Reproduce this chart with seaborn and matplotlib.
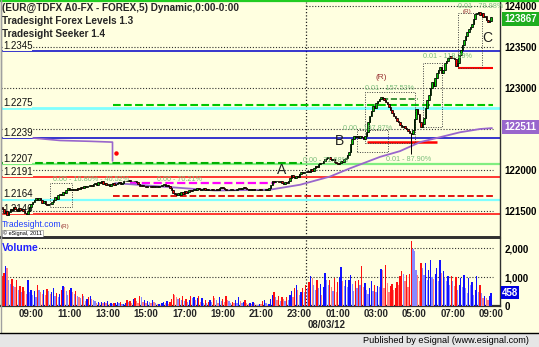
import numpy as np
import pandas as pd
import matplotlib
matplotlib.use("Agg")
import matplotlib.pyplot as plt
import seaborn as sns
from matplotlib.patches import Rectangle
from matplotlib.lines import Line2D
from matplotlib.transforms import ScaledTranslation

# ---------------- data ----------------
closes = [
    1.2152, 1.2147, 1.2150, 1.2145, 1.2149, 1.2153, 1.2151, 1.2155, 1.2152, 1.2150, 1.2154, 1.2151,
    1.2153, 1.2150, 1.2148, 1.2146, 1.2150, 1.2155, 1.2158, 1.2161, 1.2164, 1.2166, 1.2163, 1.2166,
    1.2164, 1.2160, 1.2162, 1.2159, 1.2157, 1.2159, 1.2158, 1.2161, 1.2164, 1.2167, 1.2165, 1.2169,
    1.2171, 1.2170, 1.2173, 1.2172, 1.2176, 1.2178, 1.2176, 1.2177, 1.2175, 1.2177, 1.2176, 1.2178,
    1.2177, 1.2179, 1.2178, 1.2180, 1.2179, 1.2181, 1.2180, 1.2182, 1.2181, 1.2183, 1.2184, 1.2182,
    1.2185, 1.2184, 1.2186, 1.2183, 1.2184, 1.2182, 1.2183, 1.2181, 1.2183, 1.2184, 1.2182, 1.2183,
    1.2184, 1.2185, 1.2183, 1.2184, 1.2186, 1.2187, 1.2186, 1.2188, 1.2187, 1.2186, 1.2187, 1.2186,
    1.2185, 1.2183, 1.2181, 1.2182, 1.2180, 1.2181, 1.2179, 1.2180, 1.2181, 1.2179, 1.2180, 1.2179,
    1.2180, 1.2179, 1.2181, 1.2180, 1.2182, 1.2183, 1.2181, 1.2182, 1.2180, 1.2178, 1.2175, 1.2172,
    1.2171, 1.2169, 1.2172, 1.2170, 1.2173, 1.2171, 1.2174, 1.2172, 1.2173, 1.2175, 1.2174, 1.2176,
    1.2177, 1.2176, 1.2178, 1.2177, 1.2176, 1.2177, 1.2178, 1.2176, 1.2177, 1.2175, 1.2176, 1.2177,
    1.2176, 1.2175, 1.2177, 1.2176, 1.2178, 1.2179, 1.2178, 1.2177, 1.2176, 1.2175, 1.2176, 1.2177,
    1.2176, 1.2175, 1.2176, 1.2177, 1.2178, 1.2177, 1.2178, 1.2179, 1.2178, 1.2177, 1.2176, 1.2177,
    1.2176, 1.2177, 1.2176, 1.2175, 1.2176, 1.2177, 1.2176, 1.2175, 1.2176, 1.2177, 1.2176, 1.2178,
    1.2182, 1.2186, 1.2185, 1.2187, 1.2186, 1.2185, 1.2186, 1.2184, 1.2183, 1.2185, 1.2184, 1.2186,
    1.2190, 1.2194, 1.2191, 1.2190, 1.2193, 1.2192, 1.2195, 1.2197, 1.2196, 1.2198, 1.2197, 1.2199,
    1.2198, 1.2201, 1.2199, 1.2203, 1.2205, 1.2204, 1.2207, 1.2209, 1.2208, 1.2211, 1.2213, 1.2215,
    1.2216, 1.2214, 1.2212, 1.2213, 1.2210, 1.2209, 1.2207, 1.2209, 1.2211, 1.2210, 1.2213, 1.2215,
    1.2218, 1.2222, 1.2232, 1.2238, 1.2242, 1.2240, 1.2241, 1.2239, 1.2241, 1.2240, 1.2238, 1.2241,
    1.2246, 1.2258, 1.2266, 1.2272, 1.2278, 1.2276, 1.2282, 1.2284, 1.2287, 1.2289, 1.2288, 1.2285,
    1.2283, 1.2280, 1.2277, 1.2273, 1.2270, 1.2266, 1.2264, 1.2260, 1.2258, 1.2255, 1.2252, 1.2254,
    1.2251, 1.2250, 1.2248, 1.2245, 1.2244, 1.2249, 1.2262, 1.2274, 1.2268, 1.2258, 1.2253, 1.2256,
    1.2264, 1.2275, 1.2285, 1.2292, 1.2300, 1.2307, 1.2303, 1.2312, 1.2318, 1.2322, 1.2326, 1.2318,
    1.2322, 1.2330, 1.2333, 1.2337, 1.2339, 1.2336, 1.2337, 1.2335, 1.2327, 1.2331, 1.2340, 1.2346,
    1.2352, 1.2358, 1.2364, 1.2368, 1.2372, 1.2374, 1.2378, 1.2384, 1.2390, 1.2392, 1.2393, 1.2389,
    1.2391, 1.2386, 1.2388, 1.2383, 1.2380, 1.2382, 1.23867,
]
volumes = [
    1020, 1140, 1370, 1310, 880, 760, 920, 690, 640, 900, 560, 700,
    480, 640, 520, 430, 900, 470, 560, 380, 520, 300, 720, 540,
    470, 430, 560, 380, 600, 520, 410, 470, 620, 330, 460, 300,
    420, 560, 700, 640, 520, 380, 560, 610, 480, 420, 530, 360,
    320, 260, 400, 330, 180, 230, 300, 350, 250, 190, 160, 120,
    150, 110, 130, 90, 140, 100, 170, 80, 120, 60, 90, 110,
    130, 90, 150, 60, 80, 120, 200, 140, 170, 90, 240, 260,
    180, 120, 330, 300, 150, 220, 90, 160, 130, 100, 200, 140,
    110, 60, 80, 40, 90, 130, 100, 160, 60, 130, 230, 420,
    380, 320, 250, 290, 200, 360, 180, 240, 150, 220, 330, 280,
    310, 190, 260, 340, 150, 260, 120, 200, 90, 150, 190, 130,
    360, 270, 220, 120, 300, 180, 240, 130, 330, 220, 160, 100,
    140, 90, 210, 120, 300, 160, 90, 130, 220, 110, 80, 120,
    60, 130, 90, 50, 30, 80, 60, 160, 190, 100, 40, 70,
    250, 380, 470, 300, 220, 360, 180, 300, 230, 180, 300, 220,
    390, 510, 300, 620, 730, 560, 380, 470, 620, 480, 720, 610,
    820, 1020, 980, 720, 560, 890, 620, 760, 380, 640, 1130, 900,
    720, 880, 640, 520, 980, 480, 820, 1000, 1340, 870, 700, 910,
    640, 880, 1080, 760, 530, 870, 610, 900, 720, 1370, 650, 800,
    560, 410, 620, 860, 520, 740, 480, 700, 640, 1290, 1230, 620,
    1400, 780, 480, 680, 760, 560, 620, 830, 720, 1020, 1220, 1110,
    860, 1080, 650, 1100, 2240, 1960, 1880, 1250, 1080, 860, 1480, 1310,
    1080, 1490, 880, 1250, 1570, 1000, 920, 1120, 1300, 860, 1600, 1150,
    1210, 960, 860, 1020, 720, 1030, 860, 690, 990, 560, 720, 980,
    650, 1080, 610, 440, 960, 720, 820, 380, 560, 1020, 470, 710,
    440, 280, 330, 270, 200, 330, 458,
]
first_open = 1.2155
wick_low_idx = [256]
wick_low_val = [1.2219]
start_hour = 7 + 10 / 60       # first bar 07:10 (x axis = hours since 07:00)
bar_minutes = 5

# moving average (purple), in hours since 07:00
ma1_t = [1.768, 3.176, 4.741, 5.915, 5.916]
ma1_v = [1.2239, 1.2236, 1.2235, 1.2234, 1.2211]
ma2_t = [6.05, 8.39, 11.26, 14.13, 15.70, 17.26, 18.30, 19.87, 20.91, 21.96, 23.00, 24.04, 25.09, 25.71]
ma2_v = [1.2184, 1.2180, 1.2175, 1.2176, 1.2182, 1.2192, 1.2202, 1.2216, 1.2223, 1.2234, 1.2240, 1.2246, 1.2250, 1.22511]

# levels (full width)
level_vals = [1.2345, 1.2275, 1.2239, 1.2207, 1.2191, 1.2164, 1.2146]
level_labels = ["1.2345", "1.2275", "1.2239", "1.2207", "1.2191", "1.2164", "1.2146"]
level_colors = ["#0000C8", "#80FFFF", "#0000C8", "#80EE80", "#FF0000", "#80FFFF", "#FF0000"]
level_widths = [1.1, 2.0, 1.1, 1.6, 1.1, 1.6, 1.1]

# partial levels: value, t0, t1, color, style, width
seg_vals = [1.2279, 1.2209, 1.2168, 1.2184, 1.2234, 1.2324, 1.2287]
seg_t0 = [5.94, 0.15, 5.94, 6.83, 19.19, 23.94, 19.97]
seg_t1 = [25.76, 15.80, 25.76, 14.39, 22.84, 25.76, 21.85]
seg_colors = ["#00C800", "#00B000", "#E00000", "#FF00FF", "#FF0000", "#FF0000", "#208020"]
seg_styles = ["--", "--", "--", "--", "-", "-", "--"]
seg_widths = [1.5, 1.5, 1.3, 1.6, 1.8, 1.5, 1.2]

# dotted annotation boxes: t0, t1, top, bottom
box_t0 = [2.654, 18.67, 19.09, 22.11, 23.94]
box_t1 = [3.802, 20.29, 21.69, 23.10, 25.19]
box_top = [1.21841, 1.22488, 1.22951, 1.23305, 1.23915]
box_bot = [1.21549, 1.22220, 1.22329, 1.22524, 1.23244]

# seeker texts
ann_text = ["0.00 - 16.80% - 40.52%", "0.00 - 70.21%", "0.00 - 71.68%", "0.00 - 197.87%",
            "0.01 - 157.53%", "0.01 - 87.90%", "0.01 - 118.29%", "0.01 - 79.98%"]
ann_t = [2.81, 8.24, 15.85, 17.94, 19.09, 20.18, 22.11, 23.94]
ann_p = [1.2189, 1.2189, 1.2212, 1.2250, 1.2300, 1.22134, 1.2339, 1.2400]

wave_text = ["A", "B", "C"]
wave_t = [14.76, 17.78, 25.45]
wave_p = [1.2200, 1.22348, 1.23604]

price_ticks = [1.215, 1.22, 1.23, 1.235, 1.24]
price_tick_labels = ["121500", "122000", "123000", "123500", "124000"]
vol_ticks = [0, 1000, 2000]
vol_tick_labels = ["0", "1,000", "2,000"]
time_ticks = list(range(2, 27, 2))
time_tick_labels = ["09:00", "11:00", "13:00", "15:00", "17:00", "19:00", "21:00",
                    "23:00", "01:00", "03:00", "05:00", "07:00", "09:00"]

# ---------------- frame ----------------
n = len(closes)
t = np.array([start_hour - 7 + i * bar_minutes / 60 for i in range(n)])
opens = [first_open] + closes[:-1]
highs = [max(o, c) for o, c in zip(opens, closes)]
lows = [min(o, c) for o, c in zip(opens, closes)]
for k, v in zip(wick_low_idx, wick_low_val):
    lows[k] = v
df = pd.DataFrame({"t": t, "open": opens, "close": closes, "high": highs, "low": lows, "volume": volumes})
df["up"] = df["close"] >= df["open"]

CREAM = "#FFFFE0"
sns.set_theme(style="white")
plt.rcParams["font.family"] = ["Liberation Sans", "DejaVu Sans"]

W, H = 539, 347
fig = plt.figure(figsize=(W / 100, H / 100), dpi=100, facecolor=CREAM)
fx = lambda x: x / W
fy = lambda y: 1 - y / H

ax = fig.add_axes([fx(1), fy(237), fx(500) - fx(1), fy(2) - fy(237)], facecolor=CREAM)
axv = fig.add_axes([fx(1), fy(306), fx(500) - fx(1), fy(238) - fy(306)], facecolor=CREAM, sharex=ax)

XMIN, XMAX = 0.0983, 26.129
ax.set_xlim(XMIN, XMAX)
ax.set_ylim(1.211829, 1.240488)
axv.set_ylim(0, 2345)

# grid
GRID_END = 25.76
dot = (0, (1, 1.6))
for g in [1.215, 1.22, 1.225, 1.23, 1.235]:
    ax.hlines(g, XMIN, GRID_END, colors="#303030", linestyles=[dot], lw=0.8, zorder=1)
ax.hlines(1.24, 16.0, GRID_END, colors="#303030", linestyles=[dot], lw=0.8, zorder=1)
hours = np.arange(1, 26)
for g in [1.2175, 1.2225, 1.2275, 1.2325, 1.2375]:
    ax.scatter(hours, [g] * len(hours), s=0.35, c="#303030", marker="s", lw=0, zorder=1)
for g in [1000, 2000]:
    axv.hlines(g, XMIN, GRID_END, colors="#303030", linestyles=[dot], lw=0.8, zorder=1)
for g in [500, 1500]:
    axv.scatter(hours, [g] * len(hours), s=0.35, c="#303030", marker="s", lw=0, zorder=1)
for a in (ax, axv):
    a.axvline(16.0, color="#202020", ls=dot, lw=0.9, zorder=1)

# level lines
for v, lab, c, w in zip(level_vals, level_labels, level_colors, level_widths):
    ax.axhline(v, color=c, lw=w, zorder=2)
    ax.text(0.2, v + 0.00005, lab, fontsize=7, color="#101010", ha="left", va="bottom", zorder=3,
            bbox=dict(facecolor=CREAM, edgecolor="none", pad=0))
for v, a0, a1, c, s, w in zip(seg_vals, seg_t0, seg_t1, seg_colors, seg_styles, seg_widths):
    ax.hlines(v, a0, a1, colors=c, linestyles=s, lw=w, zorder=2)

# dotted boxes
for a0, a1, tp, bt in zip(box_t0, box_t1, box_top, box_bot):
    ax.add_patch(Rectangle((a0, bt), a1 - a0, tp - bt, fill=False, ec="#404040",
                           ls=(0, (1, 1.5)), lw=0.7, zorder=2))

# moving average
sns.lineplot(x=ma1_t, y=ma1_v, ax=ax, color="#9966CC", lw=1.2, sort=False, estimator=None, zorder=3)
sns.lineplot(x=ma2_t, y=ma2_v, ax=ax, color="#9966CC", lw=1.3, sort=False, estimator=None, zorder=3)

# tradesight / esignal small texts
ax.text(0.12, 1.2133, "Tradesight.com", fontsize=6.2, color="#2040FF", ha="left", va="center", zorder=3)
ax.text(3.2, 1.21305, "(R)", fontsize=4.5, color="#993333", ha="left", va="center", zorder=3)
ax.text(0.2, 1.2123, "© eSignal, 2011", fontsize=4.0, color="#000000", ha="left", va="center", zorder=6,
        bbox=dict(facecolor="white", edgecolor="#808080", pad=0.5, lw=0.4))

# candles
ax.vlines(df["t"], df["low"], df["high"], colors="black", lw=0.7, zorder=4)
body = (df["close"] - df["open"]).where(lambda s: s.abs() > 0.00002, 0.00002)
ax.bar(df["t"], body, bottom=df["open"], width=0.078,
       color=np.where(df["up"], "#00CC00", "#FF0000"), edgecolor="black", linewidth=0.55, zorder=5)

# annotations
for s, a, p in zip(ann_text, ann_t, ann_p):
    ax.text(a, p, s, fontsize=5.2, color="#7CBF7C", ha="left", va="center", zorder=6)
ax.text(19.92, 1.2313, "(R)", fontsize=6, color="#993333", ha="center", va="center", zorder=6)
ax.text(24.4, 1.2393, "(R)", fontsize=4.5, color="#993333", ha="center", va="center", zorder=6)
for s, a, p in zip(wave_text, wave_t, wave_p):
    ax.text(a, p, s, fontsize=10, color="#202020", ha="center", va="center", zorder=6)
ax.plot([6.10], [1.22207], marker="o", ms=2.2, color="#FF0000", zorder=6)

# volume
prev = [volumes[0]] + volumes[:-1]
vcol = []
for up, v, pv in zip(df["up"], volumes, prev):
    strong = v >= pv
    if up:
        vcol.append("#1010FF" if strong else "#8888FF")
    else:
        vcol.append("#FF1010" if strong else "#FF8080")
axv.bar(df["t"], df["volume"], width=0.068, color=vcol, linewidth=0, zorder=4)
axv.text(0.15, 2000, "Volume", fontsize=7.5, fontweight="bold", color="#2020FF", ha="left", va="center",
         zorder=5, bbox=dict(facecolor=CREAM, edgecolor="none", pad=0.3))

# axes styling
for a in (ax, axv):
    a.yaxis.tick_right()
    a.tick_params(axis="y", length=0, pad=3.4, labelsize=7, colors="#000000")
    a.tick_params(axis="x", length=0)
    a.grid(False)
    for sp in a.spines.values():
        sp.set_color("#303030")
    a.spines["left"].set_color("#A0A0A0")
    a.spines["left"].set_linewidth(1.0)
    a.spines["right"].set_linewidth(1.0)
    a.set_xlabel("")
    a.set_ylabel("")
ax.spines["top"].set_visible(False)
ax.spines["bottom"].set_linewidth(1.4)
axv.spines["top"].set_linewidth(1.4)
axv.spines["bottom"].set_linewidth(1.6)

ax.set_yticks(price_ticks)
ax.set_yticklabels(price_tick_labels, fontweight="bold")
ax.tick_params(axis="x", labelbottom=False)
axv.set_yticks(vol_ticks)
axv.set_yticklabels(vol_tick_labels, fontweight="bold")
axv.set_xticks(time_ticks)
axv.set_xticklabels(time_tick_labels, fontweight="bold", fontsize=7)
axv.tick_params(axis="x", pad=2.2)
off = ScaledTranslation(-6.5 / 100, 0, fig.dpi_scale_trans)
for lab in axv.get_xticklabels():
    lab.set_transform(lab.get_transform() + off)
axv.set_xlim(XMIN, XMAX)

# figure chrome
fig.add_artist(Line2D([0, 1], [fy(1), fy(1)], color="#22CC22", lw=1.6))
fig.add_artist(Line2D([fx(0.5), fx(0.5)], [fy(332), fy(0)], color="#A0A0A0", lw=1.0))
fig.patches.append(Rectangle((0, 0), 1, fy(333), transform=fig.transFigure, facecolor="#E6E6E6",
                             edgecolor="none", zorder=0))
fig.add_artist(Line2D([0, 1], [fy(332.5), fy(332.5)], color="#000000", lw=1.0))
fig.text(fx(529), fy(340.5), "Published by eSignal (www.esignal.com)", fontsize=6.6, ha="right",
         va="center", color="#000000")
fig.text(fx(326.5), fy(325), "08/03/12", fontsize=7, fontweight="bold", ha="center", va="center")

fig.text(fx(2), fy(7.5), "(EUR@TDFX A0-FX - FOREX,5) Dynamic,0:00-0:00", fontsize=7.2,
         fontweight="bold", ha="left", va="center")
fig.text(fx(2), fy(20.5), "Tradesight Forex Levels 1.3", fontsize=7.2, fontweight="bold", ha="left", va="center")
fig.text(fx(2), fy(34), "Tradesight Seeker 1.4", fontsize=7.2, fontweight="bold", ha="left", va="center")

# price / ma / volume boxes on the right
for (x0, y0, x1, y1, col, txt) in [(502, 11.5, 538.5, 25.5, "#1FAE1F", "123867"),
                                   (502, 120, 538.5, 134, "#9966CC", "122511"),
                                   (501, 286, 519, 299, "#0000E0", "458")]:
    fig.patches.append(Rectangle((fx(x0), fy(y1)), fx(x1) - fx(x0), fy(y0) - fy(y1),
                                 transform=fig.transFigure, facecolor=col, edgecolor="none", zorder=2))
    fig.text(fx((x0 + x1) / 2), fy((y0 + y1) / 2), txt, fontsize=7, fontweight="bold", color="white",
             ha="center", va="center", zorder=3)

fig.savefig("out.png", dpi=100, facecolor=CREAM)
